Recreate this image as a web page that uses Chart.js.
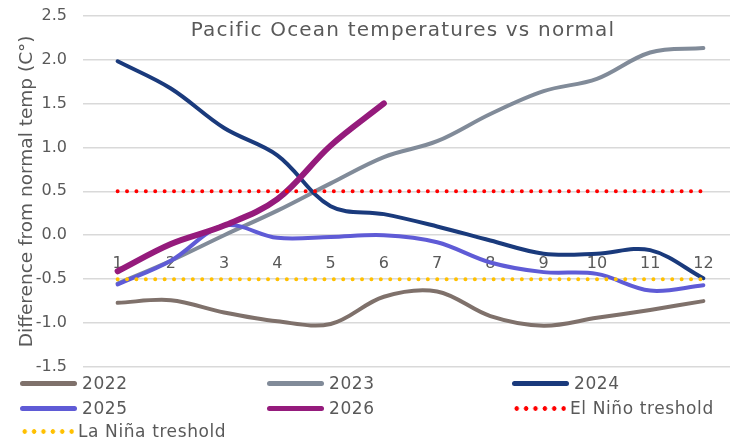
<!DOCTYPE html>
<html>
<head>
<meta charset="utf-8">
<script src="https://cdn.jsdelivr.net/npm/chart.js@4.4.1/dist/chart.umd.min.js"></script>
<style>
  html, body { margin: 0; padding: 0; background: #fff; overflow: hidden; }
  #wrap { position: relative; width: 750px; height: 443px; overflow: hidden; font-family: 'DejaVu Sans', sans-serif; }
  /* canvas is shifted up so the plot top sits at 16px */
  #chart { position: absolute; left: 0; top: -10px; }
  .leg { position: absolute; height: 20px; display: flex; align-items: center; color: #595959; font-size: 17px; letter-spacing: 0.6px; white-space: nowrap; }
  .sw { width: 57px; height: 5px; border-radius: 3px; margin-right: 5px; }
  .dots { width: 54px; height: 5px; margin-right: 4px; background-repeat: repeat-x; background-size: 9.4px 5px; }
</style>
</head>
<body>
<div id="wrap">
  <canvas id="chart" width="750" height="453"></canvas>
  <div id="legend"></div>
</div>
<script>
// months 1..12 on the category axis
const months = ['1','2','3','4','5','6','7','8','9','10','11','12'];
const yTicks = [-1.5, -1.0, -0.5, 0.0, 0.5, 1.0, 1.5, 2.0, 2.5];

// anomaly vs normal, deg C
const y2022 = [-0.77, -0.74, -0.88, -0.98, -1.01, -0.70, -0.64, -0.92, -1.03, -0.94, -0.85, -0.75];
const y2023 = [-0.55, -0.29, 0.00, 0.28, 0.59, 0.89, 1.07, 1.38, 1.64, 1.78, 2.08, 2.13];
const y2024 = [1.98, 1.67, 1.22, 0.91, 0.33, 0.24, 0.10, -0.06, -0.21, -0.21, -0.17, -0.49];
const y2025 = [-0.56, -0.29, 0.11, -0.03, -0.02, 0.00, -0.08, -0.31, -0.42, -0.44, -0.63, -0.57];
const y2026 = [-0.41, -0.10, 0.11, 0.41, 1.02, 1.50];
const elNino = [0.5, 0.5, 0.5, 0.5, 0.5, 0.5, 0.5, 0.5, 0.5, 0.5, 0.5, 0.5];
const laNina = [-0.5, -0.5, -0.5, -0.5, -0.5, -0.5, -0.5, -0.5, -0.5, -0.5, -0.5, -0.5];

const FONT = 'DejaVu Sans';
const TEXT = '#595959';

const series = [
  { label: '2022', data: y2022, color: '#7f716b', width: 4 },
  { label: '2023', data: y2023, color: '#818b99', width: 4 },
  { label: '2024', data: y2024, color: '#1a3a7c', width: 4 },
  { label: '2025', data: y2025, color: '#5f5bd6', width: 4 },
  { label: '2026', data: y2026, color: '#951b7c', width: 6 },
  { label: 'El Niño treshold', data: elNino, color: '#ff0000', width: 4, dotted: true },
  { label: 'La Niña treshold', data: laNina, color: '#ffc000', width: 4, dotted: true }
];

const datasets = series.map((s, i) => ({
  label: s.label,
  data: s.data,
  borderColor: s.color,
  backgroundColor: s.color,
  borderWidth: s.width,
  borderDash: s.dotted ? [0, 9.4] : [],
  borderCapStyle: 'round',
  borderJoinStyle: 'round',
  tension: s.dotted ? 0 : 0.35,
  pointRadius: 0,
  fill: false,
  order: series.length - i
}));

// title sits inside the plot, like the original
const titlePlugin = {
  id: 'innerTitle',
  afterDraw(chart) {
    const { ctx } = chart;
    ctx.save();
    ctx.font = `20px '${FONT}'`;
    ctx.letterSpacing = '1.2px';
    ctx.fillStyle = TEXT;
    ctx.textAlign = 'center';
    ctx.textBaseline = 'middle';
    ctx.fillText('Pacific Ocean temperatures vs normal', 403, 41);
    ctx.restore();
  }
};

new Chart(document.getElementById('chart'), {
  type: 'line',
  data: { labels: months, datasets },
  options: {
    responsive: false,
    animation: false,
    layout: { autoPadding: false, padding: { left: 0, right: 20, top: 16, bottom: 76 } },
    plugins: { legend: { display: false }, tooltip: { enabled: false } },
    scales: {
      x: {
        type: 'category',
        offset: true,
        position: { y: 0 },
        grid: { display: false },
        border: { display: false },
        ticks: { color: TEXT, font: { family: FONT, size: 16 }, padding: 11, maxRotation: 0 }
      },
      y: {
        min: -1.5,
        max: 2.5,
        afterBuildTicks: scale => { scale.ticks = yTicks.map(v => ({ value: v })); },
        afterFit: scale => { scale.width = 91; },
        grid: { color: '#d9d9d9', lineWidth: 1.5 },
        border: { display: false },
        ticks: {
          color: TEXT, font: { family: FONT, size: 16 }, padding: 16,
          callback: v => Number(v).toFixed(1)
        },
        title: {
          display: true, text: 'Difference from normal temp (C°)',
          color: TEXT, font: { family: FONT, size: 18.5 }, padding: { top: 16, bottom: 0 }
        }
      }
    }
  },
  plugins: [titlePlugin]
});

// legend in three columns below the plot
const legendPos = [
  [20, 383], [267, 383], [512, 383],
  [20, 408], [267, 408], [512, 408],
  [20, 431]
];
const legend = document.getElementById('legend');
series.forEach((s, i) => {
  const item = document.createElement('div');
  item.className = 'leg';
  item.style.left = legendPos[i][0] + 'px';
  item.style.top = (legendPos[i][1] - 10) + 'px';
  const sw = document.createElement('div');
  if (s.dotted) {
    sw.className = 'dots';
    sw.style.backgroundImage = `radial-gradient(circle at 4.7px 2.5px, ${s.color} 2px, transparent 2.6px)`;
  } else {
    sw.className = 'sw';
    sw.style.background = s.color;
  }
  item.appendChild(sw);
  item.appendChild(document.createTextNode(s.label));
  legend.appendChild(item);
});
</script>
</body>
</html>
